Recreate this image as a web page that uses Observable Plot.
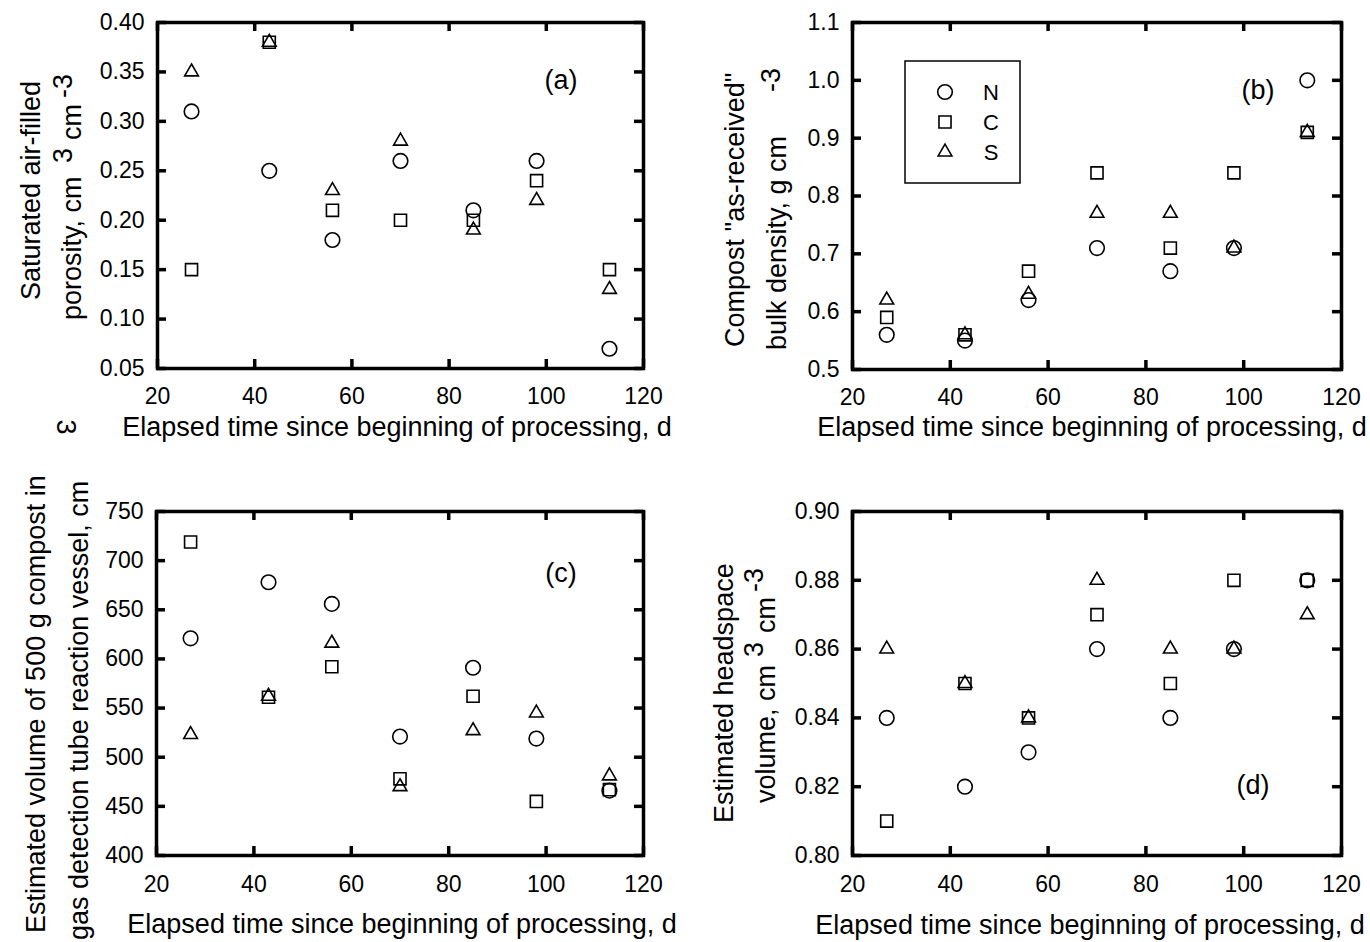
<!DOCTYPE html>
<html>
<head>
<meta charset="utf-8">
<script src="https://cdn.jsdelivr.net/npm/d3@7"></script>
<script src="https://cdn.jsdelivr.net/npm/@observablehq/plot@0.6"></script>
<style>
  body { margin: 0; background: #fff; }
  #root { position: relative; width: 1370px; height: 942px; overflow: hidden; background: #fff; }
  .panel { position: absolute; }
</style>
</head>
<body>
<div id="root"></div>
<script>
// ---------- data ----------
const days = [27, 43, 56, 70, 85, 98, 113];
const xTicks = [20, 40, 60, 80, 100, 120];
const seriesNames = ["N", "C", "S"];
const xTitle = "Elapsed time since beginning of processing, d";

// (a) saturated air-filled porosity
const porosityN = [0.31, 0.25, 0.18, 0.26, 0.21, 0.26, 0.07];
const porosityC = [0.15, 0.38, 0.21, 0.20, 0.20, 0.24, 0.15];
const porosityS = [0.35, 0.38, 0.23, 0.28, 0.19, 0.22, 0.13];
const porosityTicks = [0.05, 0.10, 0.15, 0.20, 0.25, 0.30, 0.35, 0.40];

// (b) as-received bulk density
const densityN = [0.56, 0.55, 0.62, 0.71, 0.67, 0.71, 1.00];
const densityC = [0.59, 0.56, 0.67, 0.84, 0.71, 0.84, 0.91];
const densityS = [0.62, 0.56, 0.63, 0.77, 0.77, 0.71, 0.91];
const densityTicks = [0.5, 0.6, 0.7, 0.8, 0.9, 1.0, 1.1];

// (c) estimated volume of 500 g compost
const volumeN = [621, 678, 656, 521, 591, 519, 466];
const volumeC = [719, 561, 592, 478, 562, 455, 467];
const volumeS = [523, 562, 616, 470, 527, 545, 481];
const volumeTicks = [400, 450, 500, 550, 600, 650, 700, 750];

// (d) estimated headspace volume
const headspaceN = [0.84, 0.82, 0.83, 0.86, 0.84, 0.86, 0.88];
const headspaceC = [0.81, 0.85, 0.84, 0.87, 0.85, 0.88, 0.88];
const headspaceS = [0.86, 0.85, 0.84, 0.88, 0.86, 0.86, 0.87];
const headspaceTicks = [0.80, 0.82, 0.84, 0.86, 0.88, 0.90];

// ---------- layout / style ----------
const FONT = '"Liberation Sans", Arial, Helvetica, sans-serif';
const TICK_FS = 23, TITLE_FS = 27;
const symbolSpec = {
  N: {symbol: "circle", r: 7.3, d3: d3.symbolCircle},
  C: {symbol: "square", r: 6.8, d3: d3.symbolSquare},
  S: {symbol: "triangle", r: 5.1, d3: d3.symbolTriangle}
};

const root = document.getElementById("root");

function addText(svg, t) {
  const el = d3.select(svg).append("text")
    .attr("font-family", FONT)
    .attr("font-size", t.size || TITLE_FS)
    .attr("fill", "#000")
    .attr("text-anchor", t.anchor || "start")
    .attr("transform", `translate(${t.x},${t.y})` + (t.rotate ? ` rotate(${t.rotate})` : ""))
    .text(t.text);
  if (t.baseline) el.attr("dominant-baseline", t.baseline);
  return el;
}

function makePanel(p) {
  const [fl, ft, fr, fb] = p.frame;
  const ml = fl - p.left, mt = ft - p.top, mr = p.left + p.w - fr, mb = p.top + p.h - fb;
  const iw = fr - fl, ih = fb - ft;
  const rows = days.map((d, i) => ({day: d, N: p.N[i], C: p.C[i], S: p.S[i]}));
  const T = 9, SW = 3.5;
  const tickStyle = {stroke: "#000", strokeWidth: SW};
  const svg = Plot.plot({
    width: p.w, height: p.h,
    marginLeft: ml, marginRight: mr, marginTop: mt, marginBottom: mb,
    style: `font-family:${FONT};font-size:${TICK_FS}px;color:#000;background:transparent;overflow:visible;`,
    x: {domain: [20, 120]},
    y: {domain: p.yDomain},
    marks: [
      Plot.tickX(xTicks, {x: d => d, insetTop: ih - T, ...tickStyle}),
      Plot.tickX(xTicks, {x: d => d, insetBottom: ih - T, ...tickStyle}),
      Plot.tickY(p.yTicks, {y: d => d, insetRight: iw - T, ...tickStyle}),
      Plot.tickY(p.yTicks, {y: d => d, insetLeft: iw - T, ...tickStyle}),
      Plot.frame({stroke: "#000", strokeWidth: SW}),
      Plot.axisX(xTicks, {tickSize: 0, tickPadding: p.xPad, label: null, fontSize: TICK_FS}),
      Plot.axisY(p.yTicks, {tickSize: 0, tickPadding: 13, tickFormat: p.fmt, label: null, fontSize: TICK_FS}),
      ...seriesNames.map(k => Plot.dot(rows, {
        x: "day", y: k, symbol: symbolSpec[k].symbol, r: symbolSpec[k].r,
        stroke: "#000", strokeWidth: 1.6, fill: "none"
      }))
    ]
  });
  const div = document.createElement("div");
  div.className = "panel";
  div.style.left = p.left + "px";
  div.style.top = p.top + "px";
  div.appendChild(svg);
  root.appendChild(div);

  // x title
  addText(svg, {text: xTitle, x: p.xTitle[0] - p.left, y: p.xTitle[1] - p.top, anchor: "middle"});
  // panel label
  addText(svg, {text: p.tag[0], x: p.tag[1] - p.left, y: p.tag[2] - p.top, anchor: "middle"});
  // rotated y-title pieces: [text, baseline x, start y]
  for (const [txt, x, y] of p.yTitle) {
    addText(svg, {text: txt, x: x - p.left, y: y - p.top, rotate: -90});
  }
  return svg;
}

makePanel({
  left: 0, top: 0, w: 685, h: 470, frame: [157, 22, 643, 368],
  N: porosityN, C: porosityC, S: porosityS,
  yDomain: [0.05, 0.40], yTicks: porosityTicks, fmt: d3.format(".2f"), xPad: 19,
  xTitle: [397, 436], tag: ["(a)", 561, 89],
  yTitle: [["Saturated air-filled", 40, 300], ["porosity, cm", 81, 320], ["3", 72, 163], ["cm", 81, 140], ["-3", 72, 98]]
});
makePanel({
  left: 685, top: 0, w: 685, h: 470, frame: [852, 22, 1341, 369],
  N: densityN, C: densityC, S: densityS,
  yDomain: [0.5, 1.1], yTicks: densityTicks, fmt: d3.format(".1f"), xPad: 19,
  xTitle: [1092, 436], tag: ["(b)", 1258, 99],
  yTitle: [['Compost "as-received"', 744, 347], ["bulk density, g cm", 786, 350], ["-3", 780, 92]]
});
makePanel({
  left: 0, top: 470, w: 685, h: 472, frame: [156, 511, 643, 855],
  N: volumeN, C: volumeC, S: volumeS,
  yDomain: [400, 750], yTicks: volumeTicks, fmt: d3.format("d"), xPad: 20,
  xTitle: [402, 933], tag: ["(c)", 561, 582],
  yTitle: [["Estimated volume of 500 g compost in", 45, 933], ["gas detection tube reaction vessel, cm", 88, 940]]
});
makePanel({
  left: 685, top: 470, w: 685, h: 472, frame: [852, 511, 1341, 855],
  N: headspaceN, C: headspaceC, S: headspaceS,
  yDomain: [0.80, 0.90], yTicks: headspaceTicks, fmt: d3.format(".2f"), xPad: 20,
  xTitle: [1090, 934], tag: ["(d)", 1253, 794],
  yTitle: [["Estimated headspace", 733, 823], ["volume, cm", 775, 803], ["3", 763, 657], ["cm", 775, 633], ["-3", 763, 592]]
});

// stray rotated superscript between the left panels
{
  const svgA = root.querySelector(".panel svg");
  addText(svgA, {text: "3", x: 66, y: 427, rotate: 90, anchor: "middle", baseline: "central"});
}

// legend in panel (b)
{
  const svgB = root.querySelectorAll(".panel svg")[1];
  const g = d3.select(svgB).append("g").attr("transform", "translate(220,61)");
  g.append("rect").attr("x", 0).attr("y", 0).attr("width", 115).attr("height", 122)
    .attr("fill", "#fff").attr("stroke", "#000").attr("stroke-width", 1.5);
  seriesNames.forEach((k, i) => {
    const cy = 31 + i * 30;
    g.append("path")
      .attr("d", d3.symbol(symbolSpec[k].d3, Math.PI * symbolSpec[k].r ** 2)())
      .attr("transform", `translate(40,${cy})`)
      .attr("fill", "none").attr("stroke", "#000").attr("stroke-width", 1.6);
    g.append("text").attr("x", 86).attr("y", cy + 8).attr("text-anchor", "middle")
      .attr("font-family", FONT).attr("font-size", 22).attr("fill", "#000").text(k);
  });
}
</script>
</body>
</html>
